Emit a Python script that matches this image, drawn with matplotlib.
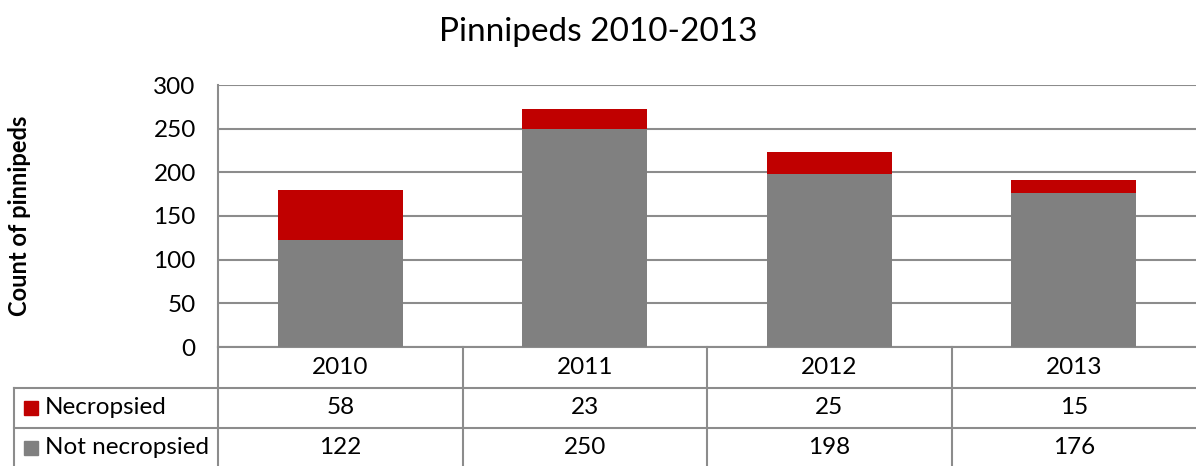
import matplotlib.pyplot as plt
import matplotlib.transforms as mtransforms
from matplotlib.patches import Rectangle

plt.rcParams['font.family'] = ['Lato', 'DejaVu Sans']

years = ['2010', '2011', '2012', '2013']
necropsied = [58, 23, 25, 15]
not_necropsied = [122, 250, 198, 176]

RED = '#C00000'
GRAY = '#808080'
LINE = '#8C8C8C'
FS = 17.5

fig = plt.figure(figsize=(11.96, 4.66), dpi=100)
W, H = 1196, 466


def fy(py):
    # pixel row from top -> figure fraction
    return 1 - py / H


ax = fig.add_axes([218 / W, fy(347), 1 - 218 / W, fy(85) - fy(347)])

x = list(range(len(years)))
ax.bar(x, not_necropsied, width=0.51, color=GRAY, zorder=3)
ax.bar(x, necropsied, width=0.51, bottom=not_necropsied, color=RED, zorder=3)

ax.set_xlim(-0.5, len(years) - 0.5)
ax.set_ylim(0, 300)
ax.set_yticks(range(0, 301, 50))
ax.set_xticks([])
ax.tick_params(axis='y', length=0, pad=16, labelsize=FS)
ax.grid(axis='y', color=LINE, linewidth=1.5, zorder=0)
for side in ['top', 'right', 'bottom']:
    ax.spines[side].set_visible(False)
ax.spines['left'].set_color(LINE)
ax.spines['left'].set_linewidth(1.5)

fig.text(0.5, fy(32), 'Pinnipeds 2010-2013', ha='center', va='center', fontsize=24)
fig.text(20 / W, fy(216), 'Count of pinnipeds', rotation=90, ha='center', va='center',
         fontsize=17, fontweight='bold')

# data table under the bars: x from data coords, y from figure coords
tr = mtransforms.blended_transform_factory(ax.transData, fig.transFigure)
rows = [347, 388, 428, 468]
left_px = 14 / W
ax.plot([-0.5, len(years) - 0.5], [fy(rows[0])] * 2, color=LINE, lw=1.5,
        transform=tr, clip_on=False)
for py in rows[1:3]:
    fig.add_artist(plt.Line2D([left_px, 1], [fy(py), fy(py)], color=LINE, lw=1.5,
                              transform=fig.transFigure))
for i in range(len(years)):
    ax.plot([i - 0.5, i - 0.5], [fy(rows[0]), fy(rows[-1])], color=LINE, lw=1.5,
            transform=tr, clip_on=False)
fig.add_artist(plt.Line2D([left_px, left_px], [fy(388), fy(468)], color=LINE, lw=1.5,
                          transform=fig.transFigure))

for i, yr in enumerate(years):
    ax.text(i, fy(367), yr, transform=tr, ha='center', va='center', fontsize=FS)
    ax.text(i, fy(408), str(necropsied[i]), transform=tr, ha='center', va='center', fontsize=FS)
    ax.text(i, fy(448), str(not_necropsied[i]), transform=tr, ha='center', va='center', fontsize=FS)

for py, label, col in [(408, 'Necropsied', RED), (448, 'Not necropsied', GRAY)]:
    fig.add_artist(Rectangle((24 / W, fy(py + 7)), 14 / W, 14 / H, color=col,
                             transform=fig.transFigure))
    fig.text(45 / W, fy(py), label, ha='left', va='center', fontsize=FS)

fig.savefig('out.png', dpi=100)
